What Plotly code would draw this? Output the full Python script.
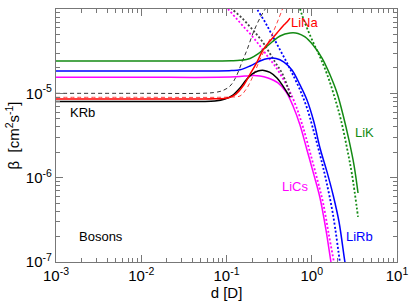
import math
import plotly.graph_objects as go

# ---------------- data ----------------
# KRb
krb_solid_d = [0.001, 0.01, 0.05, 0.0733, 0.096, 0.119, 0.144, 0.17, 0.199, 0.234, 0.275, 0.324, 0.391, 0.46, 0.556]
krb_solid_b = [8.0e-6, 8.0e-6, 8.0e-6, 8.11e-6, 8.57e-6, 9.55e-6, 1.16e-5, 1.44e-5, 1.69e-5, 1.84e-5, 1.87e-5, 1.77e-5, 1.52e-5, 1.22e-5, 9.0e-6]
krb_dot_d = [0.105, 0.116, 0.152, 0.199, 0.261, 0.371, 0.448, 0.526, 0.571]
krb_dot_b = [1.12e-4, 1.0e-4, 7.82e-5, 5.79e-5, 4.17e-5, 2.35e-5, 1.74e-5, 1.16e-5, 9.0e-6]
krb_dash_d = [0.001, 0.01, 0.05, 0.07, 0.0885, 0.11, 0.129, 0.152, 0.174, 0.205, 0.247, 0.29]
krb_dash_b = [1.0e-5, 1.0e-5, 1.0e-5, 1.02e-5, 1.07e-5, 1.22e-5, 1.56e-5, 2.35e-5, 3.27e-5, 5.19e-5, 7.82e-5, 1.03e-4]

# LiNa
lina_solid_d = [0.001, 0.01, 0.05, 0.0733, 0.104, 0.129, 0.156, 0.189, 0.228, 0.268, 0.324, 0.391, 0.46, 0.512, 0.556]
lina_solid_b = [8.57e-6, 8.57e-6, 8.57e-6, 8.62e-6, 8.8e-6, 9.8e-6, 1.22e-5, 1.69e-5, 2.35e-5, 3.27e-5, 4.17e-5, 5.19e-5, 6.29e-5, 7.0e-5, 7.8e-5]
lina_dash_d = [0.001, 0.01, 0.08, 0.115, 0.144, 0.174, 0.205, 0.24, 0.283, 0.333, 0.391, 0.448, 0.472]
lina_dash_b = [8.97e-6, 8.97e-6, 8.97e-6, 9.05e-6, 9.3e-6, 1.16e-5, 1.61e-5, 2.35e-5, 3.36e-5, 4.66e-5, 6.83e-5, 9.7e-5, 1.12e-4]

# LiK
lik_solid_d = [0.001, 0.01, 0.08, 0.115, 0.144, 0.189, 0.234, 0.283, 0.342, 0.425, 0.556, 0.69, 0.834, 1.035, 1.32, 1.64, 1.98, 2.33, 2.73, 3.13, 3.49]
lik_solid_b = [2.42e-5, 2.42e-5, 2.42e-5, 2.43e-5, 2.46e-5, 2.59e-5, 2.93e-5, 3.45e-5, 4.06e-5, 4.79e-5, 5.19e-5, 5.13e-5, 4.66e-5, 3.74e-5, 2.62e-5, 1.65e-5, 1.01e-5, 5.53e-6, 2.8e-6, 1.41e-6, 6.58e-7]
lik_dot_d = [0.708, 0.769, 0.879, 1.035, 1.25, 1.51, 1.82, 2.2, 2.59, 2.97, 3.49]
lik_dot_b = [1.12e-4, 8.49e-5, 5.95e-5, 4.06e-5, 2.7e-5, 1.69e-5, 9.55e-6, 4.83e-6, 2.25e-6, 1.08e-6, 3.42e-7]

# LiRb
lirb_solid_d = [0.001, 0.01, 0.08, 0.115, 0.144, 0.189, 0.247, 0.307, 0.381, 0.472, 0.586, 0.728, 0.879, 1.06, 1.25, 1.51, 1.78, 2.09, 2.45, 2.53]
lirb_solid_b = [1.84e-5, 1.84e-5, 1.84e-5, 1.86e-5, 1.9e-5, 2.11e-5, 2.42e-5, 2.59e-5, 2.59e-5, 2.35e-5, 1.89e-5, 1.26e-5, 8.34e-6, 4.57e-6, 2.25e-6, 1.17e-6, 6.23e-7, 2.98e-7, 1.0e-7, 8.5e-8]
lirb_dot_d = [0.21, 0.228, 0.283, 0.342, 0.425, 0.513, 0.603, 0.728, 0.879, 1.06, 1.25, 1.47, 1.78, 2.14, 2.2]
lirb_dot_b = [1.18e-4, 1.0e-4, 7.0e-5, 4.92e-5, 3.27e-5, 2.29e-5, 1.65e-5, 1.1e-5, 6.7e-6, 3.48e-6, 1.86e-6, 9.4e-7, 3.6e-7, 1.0e-7, 8.5e-8]

# LiCs
lics_solid_d = [0.001, 0.01, 0.08, 0.144, 0.189, 0.247, 0.307, 0.402, 0.499, 0.603, 0.728, 0.879, 1.06, 1.25, 1.47, 1.68, 1.73]
lics_solid_b = [1.55e-5, 1.55e-5, 1.55e-5, 1.58e-5, 1.62e-5, 1.61e-5, 1.52e-5, 1.33e-5, 1.04e-5, 7.08e-6, 4.21e-6, 2.13e-6, 1.08e-6, 5.74e-7, 2.39e-7, 1.0e-7, 8.5e-8]
lics_dot_d = [0.0885, 0.104, 0.126, 0.156, 0.199, 0.247, 0.307, 0.371, 0.448, 0.541, 0.653, 0.789, 0.953, 1.15, 1.36, 1.59, 1.82, 1.87]
lics_dot_b = [1.15e-4, 1.0e-4, 8.04e-5, 6.29e-5, 4.79e-5, 3.64e-5, 2.7e-5, 2.11e-5, 1.56e-5, 1.1e-5, 7.08e-6, 3.99e-6, 2.01e-6, 9.9e-7, 5.0e-7, 2.09e-7, 1.0e-7, 8.5e-8]

# axes ticks
x_tickvals = [1e-3, 1e-2, 1e-1, 1e0, 1e1]
x_ticktext = ["10<sup>-3</sup>", "10<sup>-2</sup>", "10<sup>-1</sup>", "10<sup>0</sup>", "10<sup>1</sup>"]
y_tickvals = [1e-7, 1e-6, 1e-5, 1e-4]
y_ticktext = ["10<sup>-7</sup>", "10<sup>-6</sup>", "10<sup>-5</sup>", "10<sup>-4</sup>"]

# labels
label_text = ["KRb", "Bosons", "LiNa", "LiK", "LiCs", "LiRb"]
label_d = [0.00207, 0.00337, 0.834, 4.2, 0.653, 3.68]
label_b = [5.85e-6, 1.98e-7, 7.0e-5, 3.39e-6, 7.96e-7, 2.03e-7]
label_color = ["black", "black", "#ff0000", "#138a13", "#ff00ff", "#0000ff"]

GREEN = "#138a13"
BLUE = "#0000ff"
MAG = "#ff00ff"
RED = "#ff0000"
BLK = "#000000"

fig = go.Figure()

def add(x, y, color, dash="solid", width=1.5):
    fig.add_trace(go.Scatter(x=x, y=y, mode="lines",
                             line=dict(color=color, dash=dash, width=width, shape="spline", smoothing=1.0),
                             showlegend=False, hoverinfo="skip"))

# dotted
add(lics_dot_d, lics_dot_b, MAG, "2px,2px", 1.8)
add(krb_dot_d, krb_dot_b, "#444444", "2px,2px", 1.8)
add(lirb_dot_d, lirb_dot_b, BLUE, "2px,2px", 1.8)
add(lik_dot_d, lik_dot_b, GREEN, "2px,2px", 1.8)
# dashed
add(krb_dash_d, krb_dash_b, "#333333", "4px,3px", 1)
add(lina_dash_d, lina_dash_b, "#ff4040", "4px,3px", 1)
# solid
add(lik_solid_d, lik_solid_b, GREEN)
add(lirb_solid_d, lirb_solid_b, BLUE)
add(lics_solid_d, lics_solid_b, MAG)
add(krb_solid_d, krb_solid_b, BLK)
add(lina_solid_d, lina_solid_b, RED)

for t, xd, yb, c in zip(label_text, label_d, label_b, label_color):
    fig.add_annotation(x=math.log10(xd), y=math.log10(yb), text=t,
                       showarrow=False, font=dict(size=13, color=c, family="Liberation Sans"),
                       xanchor="center", yanchor="middle")

minor_x = [k * 10.0 ** e for e in range(-3, 1) for k in range(2, 10)]
minor_y = [k * 10.0 ** e for e in range(-7, -4) for k in range(2, 10)]

axis_common = dict(type="log", showgrid=False, zeroline=False, showline=True,
                   linecolor="#777777", linewidth=1.2, mirror="ticks", automargin=False,
                   ticks="inside", ticklen=7, tickcolor="#777777", tickwidth=1,
                   tickfont=dict(size=15, family="Liberation Sans", color="black"))

fig.update_xaxes(range=[-3, 1], tickvals=x_tickvals, ticktext=x_ticktext,
                 minor=dict(tickvals=minor_x, ticks="inside", ticklen=4, tickcolor="#777777", showgrid=False),
                 title=dict(text="d [D]", font=dict(size=15, family="Liberation Sans"), standoff=4),
                 **axis_common)
fig.update_yaxes(range=[-7, -4], tickvals=y_tickvals, ticktext=y_ticktext,
                 minor=dict(tickvals=minor_y, ticks="inside", ticklen=4, tickcolor="#777777", showgrid=False),
                 title=dict(text="β  [cm<sup>2</sup>s<sup>-1</sup>]", font=dict(size=15, family="Liberation Sans"), standoff=2),
                 **axis_common)

fig.update_layout(width=409, height=303, margin=dict(l=56, r=12, t=9, b=41),
                  paper_bgcolor="white", plot_bgcolor="white",
                  font=dict(family="Liberation Sans", color="black"))

fig.write_html("out.html", config={"displayModeBar": False},
               post_script="document.body.style.margin='0px';")
